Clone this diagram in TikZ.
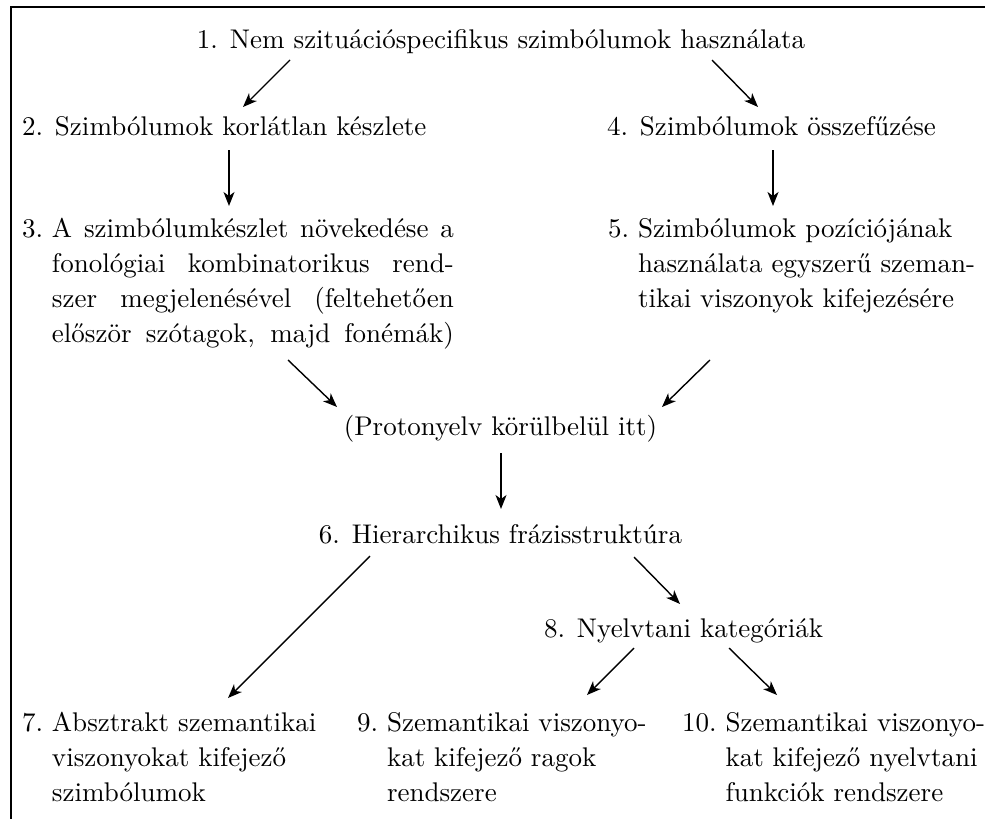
\documentclass[tikz,border=0pt]{standalone}
\usepackage{fontspec}
\setmainfont{lmroman10-regular.otf}
\usetikzlibrary{arrows.meta}
\newcommand{\jline}[1]{\makebox[402pt][s]{#1}}
\tikzset{
  lbl/.style={inner sep=0pt, outer sep=0pt, font=\fontsize{27}{35}\selectfont},
  arr/.style={line width=1.4pt, -{Stealth[length=14pt,width=11pt,inset=4pt]}},
  frame/.style={line width=2pt}
}
\begin{document}
\begin{tikzpicture}[x=1pt,y=-1pt]
\useasboundingbox (0,0) rectangle (985,819);
\draw[frame] (11,819) -- (11,7) -- (985,7);

\node[lbl, anchor=base] (n1) at (501,48) {1. Nem szituációspecifikus szimbólumok használata};
\node[lbl, anchor=base west] (n2) at (22,135) {2. Szimbólumok korlátlan készlete};
\node[lbl, anchor=base west] (n4) at (607,135) {4. Szimbólumok összefűzése};
\node[lbl, anchor=base west] (n3) at (22,237) {\begin{tabular}[t]{@{}l@{\ }l@{}}
3. & \jline{A szimbólumkészlet növekedése a}\\
   & \jline{fonológiai kombinatorikus rend-}\\
   & \jline{szer megjelenésével (feltehetően}\\
   & \jline{először szótagok, majd fonémák)}
\end{tabular}};
\node[lbl, anchor=base west] (n5) at (608,237) {\begin{tabular}[t]{@{}l@{\ }l@{}}
5. & Szimbólumok pozíciójának\\
   & használata egyszerű szeman-\\
   & tikai viszonyok kifejezésére
\end{tabular}};
\node[lbl, anchor=base] (p) at (500.5,435) {(Protonyelv körülbelül itt)};
\node[lbl, anchor=base] (n6) at (500.5,543) {6. Hierarchikus frázisstruktúra};
\node[lbl, anchor=base west] (n8) at (544,637) {8. Nyelvtani kategóriák};
\node[lbl, anchor=base west] (n7) at (22,731) {\begin{tabular}[t]{@{}l@{\ }l@{}}
7. & Absztrakt szemantikai\\
   & viszonyokat kifejező\\
   & szimbólumok
\end{tabular}};
\node[lbl, anchor=base west] (n9) at (357,731) {\begin{tabular}[t]{@{}l@{\ }l@{}}
9. & Szemantikai viszonyo-\\
   & kat kifejező ragok\\
   & rendszere
\end{tabular}};
\node[lbl, anchor=base west] (n10) at (682,731) {\begin{tabular}[t]{@{}l@{\ }l@{}}
10. & Szemantikai viszonyo-\\
    & kat kifejező nyelvtani\\
    & funkciók rendszere
\end{tabular}};

\draw[arr] ([shift={(-211,12)}]n1.base) -- ([shift={(221,-28)}]n2.base west);
\draw[arr] ([shift={(211,12)}]n1.base) -- ([shift={(151,-28)}]n4.base west);
\draw[arr] ([shift={(207,15)}]n2.base west) -- ([shift={(207,-31)}]n3.base west);
\draw[arr] ([shift={(166,15)}]n4.base west) -- ([shift={(165,-31)}]n5.base west);
\draw[arr] ([shift={(266,123)}]n3.base west) -- ([shift={(-163.5,-28)}]p.base);
\draw[arr] ([shift={(102,123)}]n5.base west) -- ([shift={(161.5,-28)}]p.base);
\draw[arr] ([shift={(0.5,18)}]p.base) -- ([shift={(0.5,-34)}]n6.base);
\draw[arr] ([shift={(-130.5,13)}]n6.base) -- ([shift={(206,-33)}]n7.base west);
\draw[arr] ([shift={(133.5,14)}]n6.base) -- ([shift={(136,-33)}]n8.base west);
\draw[arr] ([shift={(90,11)}]n8.base west) -- ([shift={(230,-36)}]n9.base west);
\draw[arr] ([shift={(185,11)}]n8.base west) -- ([shift={(95,-36)}]n10.base west);
\end{tikzpicture}
\end{document}
